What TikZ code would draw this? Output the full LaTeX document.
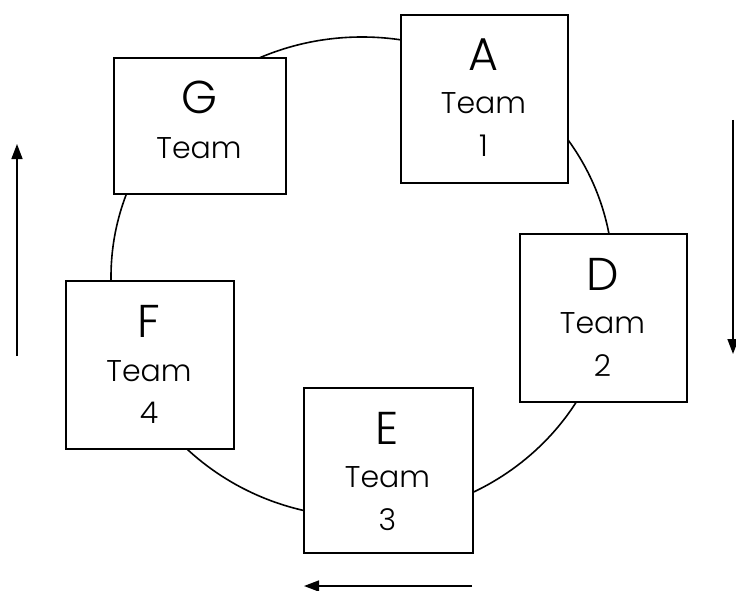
\documentclass[tikz,border=0pt]{standalone}
\usepackage{fontspec}
\setmainfont{Poppins}[UprightFont=* Light]
\usetikzlibrary{arrows.meta}
\tikzset{
  teambox/.style={draw=black, line width=1.8pt, fill=white, inner sep=0pt, anchor=north west},
  bigletter/.style={anchor=base, inner sep=0pt, font=\fontsize{46}{46}\selectfont},
  teamtext/.style={anchor=base, inner sep=0pt, font=\fontsize{30}{30}\selectfont},
  ring/.style={line width=1.6pt},
  flow/.style={line width=1.5pt, -{Triangle[length=15pt,width=11pt]}},
}
\begin{document}
\begin{tikzpicture}[x=1pt,y=-1pt]
\useasboundingbox (0,0) rectangle (736,591);

% the ring linking the teams
\draw[ring] (362,277) ellipse [x radius=251, y radius=240];

% boxes
\node[teambox, minimum width=167pt, minimum height=168pt] (A) at (400,14) {};
\node[teambox, minimum width=172pt, minimum height=136pt] (G) at (113,57) {};
\node[teambox, minimum width=167pt, minimum height=168pt] (D) at (519,233) {};
\node[teambox, minimum width=168pt, minimum height=168pt] (F) at (65,280) {};
\node[teambox, minimum width=169pt, minimum height=165pt] (E) at (303,387) {};

% labels
\node[bigletter] (Aname) at (483.5,71) {A};
\node[teamtext] (Ateam) at (483.5,114) {Team};
\node[teamtext] (Anum) at (483.5,157) {1};

\node[bigletter] (Gname) at (199,114) {G};
\node[teamtext] (Gteam) at (199,158) {Team};

\node[bigletter] (Dname) at (602.5,290) {D};
\node[teamtext] (Dteam) at (602.5,333) {Team};
\node[teamtext] (Dnum) at (602.5,376) {2};

\node[bigletter] (Fname) at (149,337) {F};
\node[teamtext] (Fteam) at (149,381) {Team};
\node[teamtext] (Fnum) at (149,423) {4};

\node[bigletter] (Ename) at (387.5,444) {E};
\node[teamtext] (Eteam) at (387.5,487) {Team};
\node[teamtext] (Enum) at (387.5,530) {3};

% direction arrows
\coordinate (upS) at (17,356);
\coordinate (upE) at (17,144);
\coordinate (dnS) at (733,120);
\coordinate (dnE) at (733,354);
\coordinate (ltS) at (472,586);
\coordinate (ltE) at (304,586);
\draw[flow] (upS) -- (upE);
\draw[flow] (dnS) -- (dnE);
\draw[flow] (ltS) -- (ltE);
\end{tikzpicture}
\end{document}
